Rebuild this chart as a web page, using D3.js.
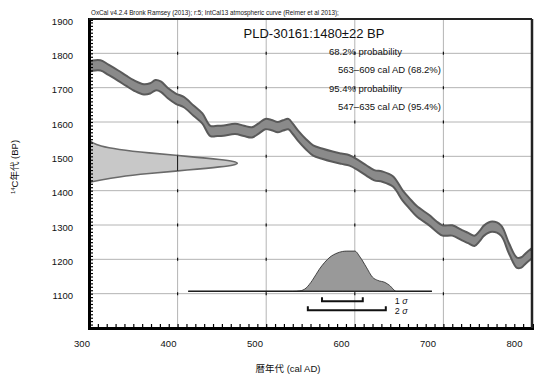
<!DOCTYPE html>
<html>
<meta charset="utf-8">
<head>
  <title>OxCal calibration</title>
</head>
<style>
body { margin: 0; background: #fff; }
text { font-family: "Liberation Sans", Arial, "Noto Sans CJK JP", sans-serif; fill: #111; }
.grid line { stroke: #b4b4b4; stroke-width: 1; }
</style>
<body>
  <svg width="535" height="374"></svg>
  <script src="https://cdnjs.cloudflare.com/ajax/libs/d3/7.8.5/d3.min.js"></script>
  <script>
// calibration curve (IntCal13)
var curveYears = [300, 304, 313, 322, 333, 342, 351, 362, 369, 375, 381, 389, 398, 407, 418, 428, 437, 445, 452, 465,
  475, 484, 492, 499, 506, 513, 519, 525, 530, 536, 545, 553, 563, 575, 585, 594, 604, 613, 622, 631,
  643, 654, 662, 670, 684, 692, 699, 710, 721, 728, 735, 741, 746, 755, 765, 774, 783, 788, 793, 800]
var curveBP = [1760, 1764, 1765, 1752, 1735, 1720, 1706, 1695, 1698, 1707, 1703, 1684, 1668, 1658, 1633, 1610, 1574, 1574, 1575, 1580,
  1574, 1570, 1582, 1594, 1591, 1585, 1590, 1594, 1580, 1560, 1535, 1517, 1508, 1499, 1493, 1488, 1474, 1459, 1445, 1441,
  1427, 1386, 1362, 1340, 1314, 1296, 1284, 1284, 1270, 1262, 1254, 1268, 1284, 1295, 1284, 1232, 1190, 1191, 1203, 1218]
var curveErr = [15, 15, 15, 15, 15, 15, 15, 15, 15, 15, 15, 15, 15, 15, 15, 15, 15, 15, 15, 15,
  15, 15, 15, 15, 15, 15, 15, 15, 15, 15, 15, 15, 15, 15, 15, 15, 15, 15, 15, 15,
  15, 15, 15, 15, 15, 15, 15, 15, 15, 15, 15, 15, 15, 15, 15, 15, 15, 15, 15, 15]

// measured date 1480 +- 22 BP
var c14BP = [1545, 1540, 1530, 1520, 1510, 1500, 1490, 1485, 1480, 1475, 1470, 1460, 1450, 1440, 1430, 1425]
var c14Dens = [0.01, 0.02, 0.07, 0.19, 0.39, 0.66, 0.90, 0.97, 1.0, 0.97, 0.90, 0.66, 0.39, 0.19, 0.07, 0.01]

// calibrated probability
var calYears = [412, 530, 538, 545, 552, 560, 566, 572, 580, 586, 591, 600, 606, 613, 620, 626, 634, 639, 647, 687]
var calDens = [0, 0, 0.01, 0.08, 0.27, 0.55, 0.72, 0.85, 0.95, 0.99, 1.0, 1.0, 0.85, 0.6, 0.35, 0.27, 0.22, 0.15, 0, 0]

var ranges = [
  {name: '1', from: 563, to: 609},
  {name: '2', from: 547, to: 635}
]
var xTicks = [300, 400, 500, 600, 700, 800]
var yTicks = [1100, 1200, 1300, 1400, 1500, 1600, 1700, 1800, 1900]

var svg = d3.select('svg')
var x = d3.scaleLinear().domain([300, 800]).range([89, 532])
var y = d3.scaleLinear().domain([1000, 1900]).range([328, 19])
// tick labels sit a bit left of their ticks in the original
var xLab = d3.scaleLinear().domain([300, 800]).range([81.5, 514])

// grid
var grid = svg.append('g').attr('class', 'grid')
grid.selectAll('.v').data(xTicks.slice(1, -1)).enter().append('line')
  .attr('x1', d => x(d)).attr('x2', d => x(d)).attr('y1', y(1900)).attr('y2', y(1000))
grid.selectAll('.h').data(yTicks.slice(0, -1)).enter().append('line')
  .attr('y1', d => y(d)).attr('y2', d => y(d)).attr('x1', x(300)).attr('x2', x(800))

// small marks where grid lines cross
var cross = []
xTicks.slice(1, -1).forEach(a => yTicks.slice(0, -1).forEach(b => cross.push([a, b])))
svg.append('g').selectAll('line').data(cross).enter().append('line')
  .attr('x1', d => x(d[0])).attr('x2', d => x(d[0]))
  .attr('y1', d => y(d[1]) - 1.5).attr('y2', d => y(d[1]) + 1.5)
  .attr('stroke', '#111').attr('stroke-width', 1.2)

// calibration band
var band = curveYears.map((d, i) => ({yr: d, bp: curveBP[i], e: curveErr[i]}))
svg.append('path').datum(band)
  .attr('d', d3.area().curve(d3.curveCatmullRom)
    .x(d => x(d.yr)).y0(d => y(d.bp - d.e)).y1(d => y(d.bp + d.e)))
  .attr('fill', '#8a8a8a').attr('stroke', '#5a5a5a').attr('stroke-width', 2)
  .attr('stroke-linejoin', 'round')

// radiocarbon distribution on the y axis
var dx = d3.scaleLinear().domain([0, 1]).range([x(300), x(469)])
var c14 = c14BP.map((d, i) => ({bp: d, p: c14Dens[i]}))
var c14Area = d3.area().curve(d3.curveBasis)
  .y(d => y(d.bp)).x0(x(300)).x1(d => dx(d.p))
svg.append('clipPath').attr('id', 'c14clip').append('path').datum(c14).attr('d', c14Area)
svg.append('path').datum(c14).attr('d', c14Area)
  .attr('fill', '#c8c8c8').attr('stroke', '#6a6a6a').attr('stroke-width', 1.6)
svg.append('g').attr('clip-path', 'url(#c14clip)').selectAll('line').data([400]).enter().append('line')
  .attr('x1', d => x(d)).attr('x2', d => x(d)).attr('y1', y(1900)).attr('y2', y(1000))
  .attr('stroke', '#111').attr('stroke-width', 1)

// calibrated distribution
var base = 1107
var dy = d3.scaleLinear().domain([0, 1]).range([y(base), y(1224)])
var cal = calYears.map((d, i) => ({yr: d, p: calDens[i]}))
svg.append('path').datum(cal)
  .attr('d', d3.area().curve(d3.curveMonotoneX).x(d => x(d.yr)).y0(y(base)).y1(d => dy(d.p)))
  .attr('fill', '#999').attr('stroke', '#222').attr('stroke-width', 0.8)
svg.append('line').attr('x1', x(412)).attr('x2', x(687)).attr('y1', y(base)).attr('y2', y(base))
  .attr('stroke', '#111').attr('stroke-width', 1.2)

// 1 sigma / 2 sigma ranges
var rY = d3.scaleOrdinal().domain(['1', '2']).range([y(1078), y(1052)])
svg.append('g').selectAll('path').data(ranges).enter().append('path')
  .attr('d', d => 'M' + x(d.from) + ',' + (rY(d.name) - 4) + 'V' + rY(d.name) + 'H' + x(d.to) + 'V' + (rY(d.name) - 4))
  .attr('fill', 'none').attr('stroke', '#111').attr('stroke-width', 2)
var sl = svg.append('g').selectAll('text').data(ranges).enter().append('text')
  .attr('x', x(645)).attr('y', (d, i) => 303.5 + i * 10.5).attr('font-size', 9)
sl.append('tspan').text(d => d.name + ' ')
sl.append('tspan').attr('font-style', 'italic').text('σ')

// frame with minor ticks
svg.append('g').attr('transform', 'translate(' + x(300) + ',0)')
  .call(d3.axisLeft(y).tickValues(y.ticks(90)).tickSize(-4).tickFormat(''))
  .call(g => g.select('.domain').attr('stroke-width', 3))
  .call(g => g.selectAll('.tick line').attr('stroke-width', 1.2))
svg.append('g').attr('transform', 'translate(0,' + y(1000) + ')')
  .call(d3.axisBottom(x).tickValues(x.ticks(50)).tickSize(-4).tickFormat(''))
  .call(g => g.select('.domain').attr('stroke-width', 3))
  .call(g => g.selectAll('.tick line').attr('stroke-width', 1.2))
svg.append('line').attr('x1', x(300)).attr('x2', x(800)).attr('y1', y(1900)).attr('y2', y(1900))
  .attr('stroke', '#222').attr('stroke-width', 2)
svg.append('line').attr('x1', x(800)).attr('x2', x(800)).attr('y1', y(1900)).attr('y2', y(1000))
  .attr('stroke', '#222').attr('stroke-width', 2.5)

// tick labels
svg.append('g').attr('transform', 'translate(0,340)')
  .call(d3.axisBottom(xLab).tickValues(xTicks).tickSize(0).tickPadding(0).tickFormat(d3.format('d')))
  .call(g => g.select('.domain').remove())
  .call(g => g.selectAll('text').attr('font-size', 9.5).attr('fill', '#111').attr('font-family', null))
svg.append('g').attr('transform', 'translate(73,2)')
  .call(d3.axisLeft(y).tickValues(yTicks).tickSize(0).tickPadding(0).tickFormat(d3.format('d')))
  .call(g => g.select('.domain').remove())
  .call(g => g.selectAll('text').attr('font-size', 9.5).attr('fill', '#111').attr('font-family', null))

// texts
svg.append('text').attr('x', 91).attr('y', 15).attr('font-size', 6.3)
  .text('OxCal v4.2.4 Bronk Ramsey (2013); r:5; IntCal13 atmospheric curve (Reimer et al 2013);')
svg.append('text').attr('x', 314).attr('y', 38).attr('font-size', 13).attr('text-anchor', 'middle')
  .text('PLD-30161:1480±22 BP')
var info = [
  {t: '68.2% probability', x: 329, y: 55},
  {t: '563–609 cal AD (68.2%)', x: 338, y: 73},
  {t: '95.4% probability', x: 329, y: 92},
  {t: '547–635 cal AD (95.4%)', x: 338, y: 110}
]
svg.append('g').selectAll('text').data(info).enter().append('text')
  .attr('x', d => d.x).attr('y', d => d.y).attr('font-size', 9.5).text(d => d.t)

var yt = svg.append('text').attr('transform', 'translate(18,167) rotate(-90)')
  .attr('text-anchor', 'middle').attr('font-size', 9.5)
yt.append('tspan').attr('font-size', 6).attr('dy', -3).text('14')
yt.append('tspan').attr('dy', 3).text('C年代 (BP)')
svg.append('text').attr('x', 288).attr('y', 372).attr('text-anchor', 'middle').attr('font-size', 9.5)
  .text('暦年代 (cal AD)')
  </script>
</body>
</html>
